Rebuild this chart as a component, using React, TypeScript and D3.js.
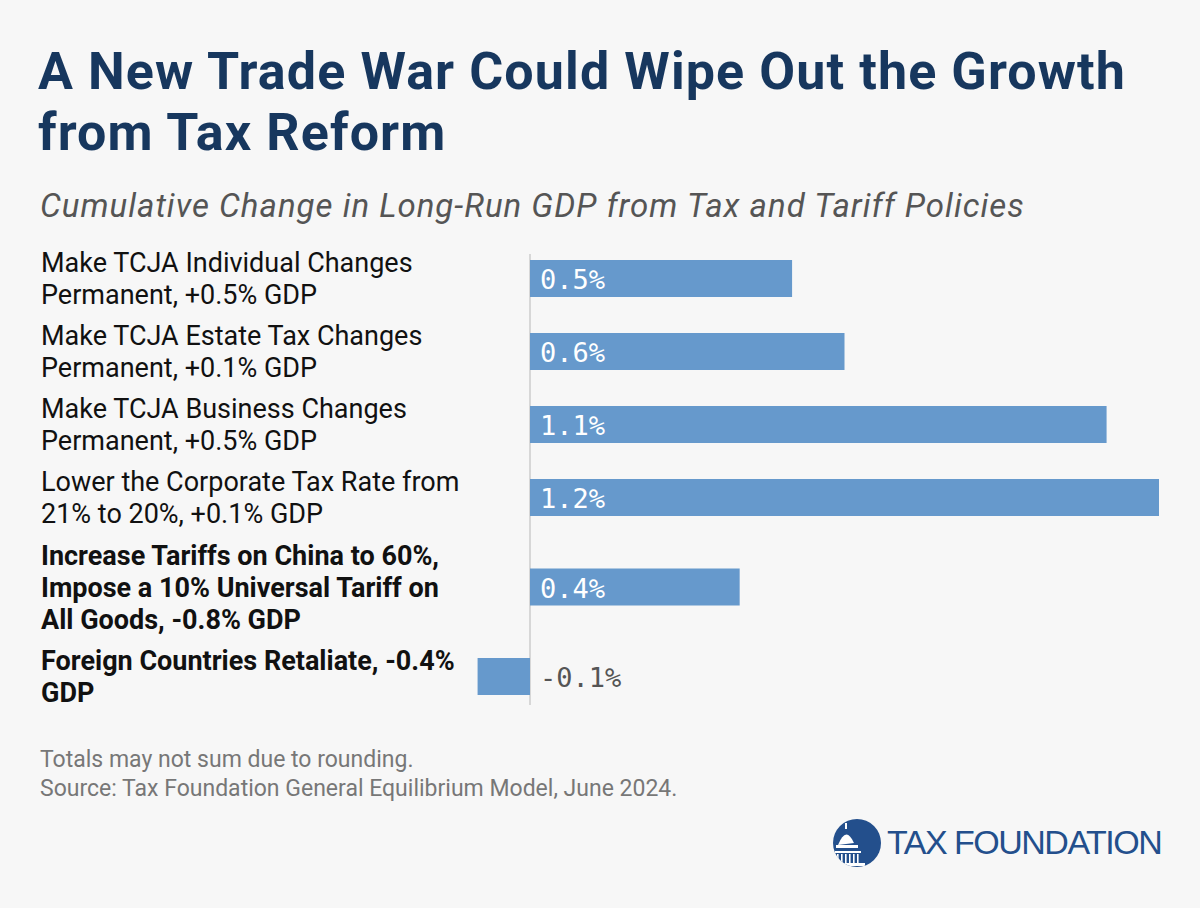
import React from "react";
import * as d3 from "d3";

const labels: string[][] = [
  ["Make TCJA Individual Changes", "Permanent, +0.5% GDP"],
  ["Make TCJA Estate Tax Changes", "Permanent, +0.1% GDP"],
  ["Make TCJA Business Changes", "Permanent, +0.5% GDP"],
  ["Lower the Corporate Tax Rate from", "21% to 20%, +0.1% GDP"],
  ["Increase Tariffs on China to 60%,", "Impose a 10% Universal Tariff on", "All Goods, -0.8% GDP"],
  ["Foreign Countries Retaliate, -0.4%", "GDP"],
];
const values = [0.5, 0.6, 1.1, 1.2, 0.4, -0.1];
const bold = [false, false, false, false, true, true];

const W = 1200, H = 908;
const ROW_LINE = 33;
const TEXT_LINE = 32;

export default function App() {
  const x = d3.scaleLinear().domain([0, 1.2]).range([530, 1159]);
  // rows stack by number of label lines
  const rows: { top: number; h: number }[] = [];
  let y0 = 242;
  labels.forEach((l) => {
    const h = l.length * ROW_LINE + 7;
    rows.push({ top: y0, h });
    y0 += h;
  });
  const barH = 37;
  return (
    <svg width={W} height={H} style={{ display: "block", position: "absolute", left: 0, top: 0 }}>
      <rect width={W} height={H} fill="#f7f7f7" />
      <g fontFamily="Roboto" fill="#17375e" fontWeight={700} fontSize={52} letterSpacing={1.1}>
        <text x={38} y={89}>A New Trade War Could Wipe Out the Growth</text>
        <text x={38} y={150}>from Tax Reform</text>
      </g>
      <text x={40} y={217} fontFamily="Roboto" fontStyle="italic" fontSize={33} fill="#555" letterSpacing={1}>
        Cumulative Change in Long-Run GDP from Tax and Tariff Policies
      </text>
      <line x1={x(0)} x2={x(0)} y1={rows[0].top + 12} y2={y0 - 8} stroke="#ccc" strokeWidth={1.5} />
      {labels.map((l, i) => {
        const r = rows[i];
        const cy = r.top + r.h / 2;
        const v = values[i];
        return (
          <g key={i}>
            {l.map((s, j) => (
              <text key={j} x={41} y={cy + (j - (l.length - 1) / 2) * TEXT_LINE + 9.6} fontFamily="Roboto" fontSize={27}
                fontWeight={bold[i] ? 700 : 400} fill="#111">{s}</text>
            ))}
            <rect x={x(Math.min(0, v))} y={cy - barH / 2} width={Math.abs(x(v) - x(0))} height={barH} fill="#6699cc" />
            <text x={x(0) + 10} y={cy + 10.5} fontFamily="DejaVu Sans Mono" fontSize={27}
              fill={v < 0 ? "#555" : "#fff"}>{d3.format(".1f")(v).replace("−", "-")}%</text>
          </g>
        );
      })}
      <g fontFamily="Roboto" fontSize={23} fill="#777">
        <text x={40} y={767}>Totals may not sum due to rounding.</text>
        <text x={40} y={796}>Source: Tax Foundation General Equilibrium Model, June 2024.</text>
      </g>
      <g>
        <clipPath id="lc"><circle cx={857} cy={843} r={24} /></clipPath>
        <circle cx={857} cy={843} r={24} fill="#234f8c" />
        <g clipPath="url(#lc)" fill="#fff">
          <path d="M838,845 Q846,825 854,843 Z" />
          <rect x={845} y={823} width={2} height={6} />
          <rect x={836} y={845} width={22} height={3} />
          <rect x={835} y={851} width={26} height={2} />
          {d3.range(6).map((k) => (
            <rect key={k} x={837 + k * 4} y={854} width={1.6} height={10} />
          ))}
          <rect x={833} y={863} width={32} height={3} />
        </g>
        <text x={887} y={854} fontFamily="Liberation Sans" fontSize={34} fill="#234f8c" letterSpacing={-1.5}>TAX FOUNDATION</text>
      </g>
    </svg>
  );
}
